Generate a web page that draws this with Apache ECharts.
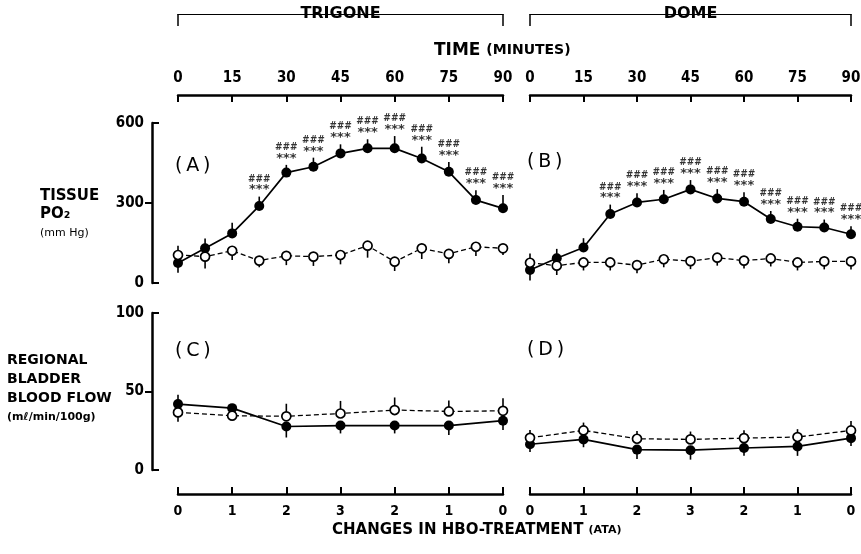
<!DOCTYPE html>
<html>
<head>
<meta charset="utf-8">
<script src="https://cdn.jsdelivr.net/npm/echarts@6/dist/echarts.min.js"></script>
<style>
html, body { margin: 0; background: #fff; }
#chart { width: 861px; height: 554px; }
</style>
</head>
<body>
<div id="chart"></div>
<script>
// time points (minutes) for tissue PO2, and HBO pressure steps for blood flow
const timeMin = [0, 7.5, 15, 22.5, 30, 37.5, 45, 52.5, 60, 67.5, 75, 82.5, 90];
const ataPos = [0, 15, 30, 45, 60, 75, 90];
const ataLabels = ['0', '1', '2', '3', '2', '1', '0'];

// (A) trigone tissue PO2
const trigoneHbo = [75, 130, 186, 289, 414, 436, 486, 505, 505, 467, 417, 311, 280];
const trigoneHboSe = [37, 37, 40, 35, 29, 34, 34, 34, 46, 44, 37, 37, 50];
const trigoneCtrl = [105, 99, 121, 84, 102, 99, 105, 140, 80, 130, 109, 136, 130];
const trigoneCtrlSe = [35, 45, 35, 25, 35, 35, 35, 45, 35, 40, 35, 35, 25];
const trigoneSig = [0, 0, 0, 1, 1, 1, 1, 1, 1, 1, 1, 1, 1];

// (B) dome tissue PO2
const domeHbo = [49, 93, 133, 259, 302, 314, 351, 317, 305, 240, 211, 208, 183];
const domeHboSe = [40, 35, 35, 35, 35, 35, 35, 35, 35, 30, 30, 30, 30];
const domeCtrl = [76, 65, 77, 77, 67, 89, 82, 95, 84, 92, 77, 81, 81];
const domeCtrlSe = [35, 35, 30, 30, 30, 30, 30, 30, 30, 30, 30, 30, 30];
const domeSig = [0, 0, 0, 1, 1, 1, 1, 1, 1, 1, 1, 1, 1];

// (C) trigone blood flow
const trigoneFlowHbo = [42, 39.4, 27.7, 28.3, 28.3, 28.3, 31.4];
const trigoneFlowHboSe = [6, 6, 7, 5, 5, 6, 6];
const trigoneFlowCtrl = [36.7, 34.6, 34.2, 36, 38.2, 37.3, 37.7];
const trigoneFlowCtrlSe = [6, 6, 8, 8, 8, 7, 8];

// (D) dome blood flow
const domeFlowHbo = [16.4, 19.5, 13, 12.6, 14, 15, 20.3];
const domeFlowHboSe = [5, 5, 6, 6, 5, 6, 5];
const domeFlowCtrl = [20.5, 25.2, 19.9, 19.5, 20.3, 21, 25.2];
const domeFlowCtrlSe = [5, 5, 5, 5, 5, 5, 6];

const numFont = "'Liberation Sans Narrow', 'DejaVu Sans Condensed', 'Liberation Sans', sans-serif";
const txtFont = "'DejaVu Sans', 'Liberation Sans', sans-serif";

var chart = echarts.init(document.getElementById('chart'));

// top TIME axis
let timeAxis = function (grid) {
    return {
        type: 'value', gridIndex: grid, position: 'top', offset: 28,
        min: 0, max: 90, interval: 15,
        axisLine: { onZero: false, lineStyle: { color: '#000', width: 2.5 } },
        axisTick: { inside: true, length: 7, lineStyle: { color: '#000', width: 2 } },
        axisLabel: { color: '#000', fontSize: 15, fontWeight: 'bold', fontFamily: numFont, margin: 9 },
        splitLine: { show: false }
    };
};
// bracket with region name above the time axis
let bracketAxis = function (grid, name) {
    return {
        type: 'value', gridIndex: grid, position: 'top', offset: 109,
        min: 0, max: 90,
        axisLine: { onZero: false, lineStyle: { color: '#000', width: 1.2 } },
        axisTick: { inside: true, length: 12, customValues: [0, 90], lineStyle: { color: '#000', width: 1.5 } },
        axisLabel: { show: false },
        splitLine: { show: false },
        name: name, nameLocation: 'middle', nameGap: -8,
        nameTextStyle: { color: '#000', fontSize: 16, fontWeight: 'bold', fontFamily: txtFont,
            backgroundColor: '#fff', padding: [0, 5] }
    };
};
// bottom ATA axis
let ataAxis = function (grid) {
    return {
        type: 'value', gridIndex: grid, position: 'bottom', offset: 24,
        min: 0, max: 90, interval: 15,
        axisLine: { onZero: false, lineStyle: { color: '#000', width: 2.5 } },
        axisTick: { inside: true, length: 7, lineStyle: { color: '#000', width: 2 } },
        axisLabel: { color: '#000', fontSize: 14, fontWeight: 'bold', fontFamily: numFont, margin: 10,
            formatter: function (v) { return ataLabels[ataPos.indexOf(v)]; } },
        splitLine: { show: false }
    };
};
let mainY = function (grid, max) {
    return {
        type: 'value', gridIndex: grid, position: 'left', offset: 26,
        min: 0, max: max, interval: max / 2,
        axisLine: { show: true, onZero: false, lineStyle: { color: '#000', width: 2.5 } },
        axisTick: { show: true, inside: true, length: 7, customValues: [0, max], lineStyle: { color: '#000', width: 2 } },
        axisLabel: { color: '#000', fontSize: 15, fontWeight: 'bold', fontFamily: numFont, margin: 8 },
        splitLine: { show: false }
    };
};
let midY = function (grid, max) {
    return {
        type: 'value', gridIndex: grid, position: 'left', offset: 26,
        min: 0, max: max, interval: max / 2,
        axisLine: { show: false, onZero: false },
        axisTick: { show: true, inside: false, length: 7, customValues: [max / 2], lineStyle: { color: '#000', width: 2 } },
        axisLabel: { show: false },
        splitLine: { show: false }
    };
};
let hiddenY = function (grid, max) {
    return { type: 'value', gridIndex: grid, min: 0, max: max, show: false, splitLine: { show: false } };
};

// filled = HBO group, open = control
let lineSeries = function (xi, yi, xs, vals, filled) {
    return {
        type: 'line', xAxisIndex: xi, yAxisIndex: yi, z: filled ? 3 : 4,
        data: xs.map(function (x, i) { return [x, vals[i]]; }),
        symbol: 'circle', symbolSize: filled ? 10 : 9, showSymbol: true,
        lineStyle: { color: '#000', width: filled ? 1.7 : 1.3, type: filled ? 'solid' : [5, 3] },
        itemStyle: { color: filled ? '#000' : '#fff', borderColor: '#000', borderWidth: filled ? 0 : 1.7 },
        silent: true
    };
};
// one-sided SE bars, first point both ways
let errSeries = function (xi, yi, xs, vals, se, dir) {
    return {
        type: 'custom', xAxisIndex: xi, yAxisIndex: yi, z: 2, silent: true,
        data: xs.map(function (x, i) {
            let d = i === 0 ? 0 : dir;
            let lo = d > 0 ? vals[i] : vals[i] - se[i];
            let hi = d < 0 ? vals[i] : vals[i] + se[i];
            return [x, lo, hi];
        }),
        encode: { x: 0, y: [1, 2] },
        renderItem: function (params, api) {
            let a = api.coord([api.value(0), api.value(1)]);
            let b = api.coord([api.value(0), api.value(2)]);
            return { type: 'line', shape: { x1: a[0], y1: a[1], x2: b[0], y2: b[1] },
                style: { stroke: '#000', lineWidth: 1.6 } };
        }
    };
};
let sigSeries = function (xi, yi, xs, vals, se, sig) {
    let pts = [];
    xs.forEach(function (x, i) { if (sig[i]) pts.push([x, vals[i] + se[i]]); });
    return {
        type: 'scatter', xAxisIndex: xi, yAxisIndex: yi, z: 5, silent: true,
        symbolSize: 0, data: pts,
        label: { show: true, position: 'top', distance: 1, color: '#000',
            formatter: '{h|###}\n{s|***}',
            rich: { h: { fontSize: 10, fontWeight: 'bold', fontFamily: numFont, lineHeight: 11 },
                    s: { fontSize: 13, fontWeight: 'bold', fontFamily: txtFont, lineHeight: 11 } } }
    };
};

let option = {
    backgroundColor: '#fff',
    animation: false,
    grid: [
        { left: 178, width: 325, top: 123, height: 160, outerBoundsMode: 'none' },
        { left: 530, width: 321, top: 123, height: 160, outerBoundsMode: 'none' },
        { left: 178, width: 325, top: 313, height: 157, outerBoundsMode: 'none' },
        { left: 530, width: 321, top: 313, height: 157, outerBoundsMode: 'none' }
    ],
    xAxis: [
        timeAxis(0), bracketAxis(0, 'TRIGONE'),
        timeAxis(1), bracketAxis(1, 'DOME'),
        ataAxis(2), ataAxis(3)
    ],
    yAxis: [
        mainY(0, 600), midY(0, 600), hiddenY(1, 600),
        mainY(2, 100), midY(2, 100), hiddenY(3, 100)
    ],
    series: [
        errSeries(0, 0, timeMin, trigoneHbo, trigoneHboSe, 1),
        errSeries(0, 0, timeMin, trigoneCtrl, trigoneCtrlSe, -1),
        lineSeries(0, 0, timeMin, trigoneHbo, true),
        lineSeries(0, 0, timeMin, trigoneCtrl, false),
        sigSeries(0, 0, timeMin, trigoneHbo, trigoneHboSe, trigoneSig),

        errSeries(2, 2, timeMin, domeHbo, domeHboSe, 1),
        errSeries(2, 2, timeMin, domeCtrl, domeCtrlSe, -1),
        lineSeries(2, 2, timeMin, domeHbo, true),
        lineSeries(2, 2, timeMin, domeCtrl, false),
        sigSeries(2, 2, timeMin, domeHbo, domeHboSe, domeSig),

        errSeries(4, 3, ataPos, trigoneFlowHbo, trigoneFlowHboSe, -1),
        errSeries(4, 3, ataPos, trigoneFlowCtrl, trigoneFlowCtrlSe, 1),
        lineSeries(4, 3, ataPos, trigoneFlowHbo, true),
        lineSeries(4, 3, ataPos, trigoneFlowCtrl, false),

        errSeries(5, 5, ataPos, domeFlowHbo, domeFlowHboSe, -1),
        errSeries(5, 5, ataPos, domeFlowCtrl, domeFlowCtrlSe, 1),
        lineSeries(5, 5, ataPos, domeFlowHbo, true),
        lineSeries(5, 5, ataPos, domeFlowCtrl, false)
    ],
    graphic: [
        { type: 'text', left: 434, top: 42, style: { text: '{a|TIME }{b|(MINUTES)}', fill: '#000',
            rich: { a: { fontSize: 17, fontWeight: 'bold', fontFamily: txtFont }, b: { fontSize: 14, fontWeight: 'bold', fontFamily: txtFont } } } },
        { type: 'text', left: 332, top: 523, style: { text: '{a|CHANGES IN HBO-TREATMENT }{b|(ATA)}', fill: '#000',
            rich: { a: { fontSize: 15, fontWeight: 'bold', fontFamily: txtFont }, b: { fontSize: 11, fontWeight: 'bold', fontFamily: txtFont } } } },
        { type: 'text', left: 40, top: 189, style: { text: 'TISSUE', fill: '#000', fontSize: 15, fontWeight: 'bold', fontFamily: txtFont } },
        { type: 'text', left: 40, top: 207, style: { text: 'PO₂', fill: '#000', fontSize: 15, fontWeight: 'bold', fontFamily: txtFont } },
        { type: 'text', left: 40, top: 228, style: { text: '(mm Hg)', fill: '#000', fontSize: 11, fontFamily: txtFont } },
        { type: 'text', left: 7, top: 353, style: { text: 'REGIONAL', fill: '#000', fontSize: 14, fontWeight: 'bold', fontFamily: txtFont } },
        { type: 'text', left: 7, top: 372, style: { text: 'BLADDER', fill: '#000', fontSize: 14, fontWeight: 'bold', fontFamily: txtFont } },
        { type: 'text', left: 7, top: 391, style: { text: 'BLOOD FLOW', fill: '#000', fontSize: 14, fontWeight: 'bold', fontFamily: txtFont } },
        { type: 'text', left: 7, top: 412, style: { text: '(mℓ/min/100g)', fill: '#000', fontSize: 11, fontWeight: 'bold', fontFamily: txtFont } },
        { type: 'text', left: 175, top: 157, style: { text: '(\u2009A\u2009)', fill: '#000', fontSize: 19, fontFamily: txtFont } },
        { type: 'text', left: 527, top: 153, style: { text: '(\u2009B\u2009)', fill: '#000', fontSize: 19, fontFamily: txtFont } },
        { type: 'text', left: 175, top: 342, style: { text: '(\u2009C\u2009)', fill: '#000', fontSize: 19, fontFamily: txtFont } },
        { type: 'text', left: 527, top: 341, style: { text: '(\u2009D\u2009)', fill: '#000', fontSize: 19, fontFamily: txtFont } }
    ]
};

chart.setOption(option);
</script>
</body>
</html>
